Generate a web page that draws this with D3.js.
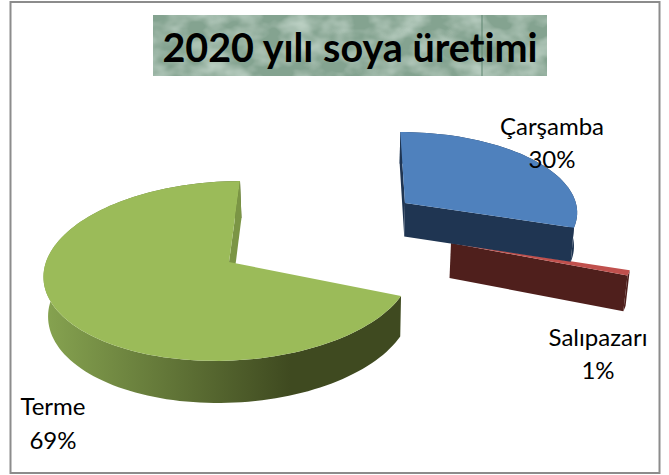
<!DOCTYPE html>
<html>
<head>
<meta charset="utf-8">
<script src="https://cdn.jsdelivr.net/npm/d3@7"></script>
<style>
  html, body { margin: 0; padding: 0; background: #fff; }
  text { font-family: Lato, "Open Sans", sans-serif; fill: #000; font-variant-ligatures: none; }
</style>
</head>
<body>
<div id="chart"></div>
<script>
// data
const categories = ['Çarşamba', 'Salıpazarı', 'Terme'];
const shares = [30, 1, 69];
const chartTitle = '2020 yılı soya üretimi';

// canvas
const width = 669, height = 475;
const svg = d3.select('#chart').append('svg')
  .attr('width', width).attr('height', height)
  .style('display', 'block');
const defs = svg.append('defs');

// frame
svg.append('rect').attr('x', 10.5).attr('y', 2).attr('width', 649).attr('height', 471)
  .attr('fill', '#fff').attr('stroke', '#8c8c8c').attr('stroke-width', 2);

// title panel with marble texture
const marble = defs.append('filter').attr('id', 'marble')
  .attr('x', 0).attr('y', 0).attr('width', 1).attr('height', 1);
marble.append('feTurbulence').attr('type', 'fractalNoise')
  .attr('baseFrequency', '0.035 0.05').attr('numOctaves', 3).attr('seed', 7);
marble.append('feColorMatrix').attr('type', 'matrix')
  .attr('values', '0 0 0 0 0.66  0 0 0 0 0.79  0 0 0 0 0.71  1.2 0 0 0 -0.42');
marble.append('feComposite').attr('in2', 'SourceGraphic').attr('operator', 'over');

svg.append('rect').attr('x', 153).attr('y', 15).attr('width', 394).attr('height', 61)
  .attr('fill', '#84a390').attr('filter', 'url(#marble)');
svg.append('line').attr('x1', 482).attr('x2', 482).attr('y1', 15).attr('y2', 76)
  .attr('stroke', '#5f8570').attr('stroke-width', 1);
svg.append('text').attr('x', 350).attr('y', 62)
  .attr('text-anchor', 'middle').attr('font-size', 39.5).attr('font-weight', 700)
  .text(chartTitle);

// 3d pie projection: plane units -> screen
const vanishX = 350, planeY = 262, tilt = 0.1, depthTilt = 0.015;
const sx = d3.scaleLinear().domain([0, 1]).range([0, 183]);
const sy = d3.scaleLinear().domain([0, 1]).range([0, 89]);
const planeCenterX = -121;

function project(X, Y, drop) {
  const w = 1 + tilt * Y + (drop ? depthTilt : 0);
  return [
    vanishX + (planeCenterX + sx(X)) / w,
    planeY + (-sy(Y) + drop) / w
  ];
}

// exploded slice offsets (plane units) and wall heights
const offsets = [[0.983, 0.71], [1.225, 0.218], [0, 0]];
const depths = [35.5, 36, 40];
const tops = ['#4f81bd', '#c0504d', '#9bbb59'];
const sides = ['#1f3552', '#4f1f1c', 'url(#greenWall)'];
const cuts = ['#1f3552', '#4f1f1c', '#7b9545'];

const wallGrad = defs.append('linearGradient').attr('id', 'greenWall')
  .attr('gradientUnits', 'userSpaceOnUse')
  .attr('x1', 45).attr('x2', 290).attr('y1', 0).attr('y2', 0);
wallGrad.append('stop').attr('offset', 0).attr('stop-color', '#86a350');
wallGrad.append('stop').attr('offset', 1).attr('stop-color', '#3f4a20');

const pie = d3.pie().sort(null);
const arcs = pie(shares);
const line = d3.line();
const toRad = Math.PI / 180;

function rim(d, i, drop) {
  const [ox, oy] = offsets[i];
  const n = Math.max(4, Math.ceil((d.endAngle - d.startAngle) / (2 * toRad)));
  return d3.range(n + 1).map(k => {
    const a = d.startAngle + (d.endAngle - d.startAngle) * k / n;
    return project(ox + Math.sin(a), oy + Math.cos(a), drop);
  });
}
function radial(i, angle) {
  const [ox, oy] = offsets[i];
  const ax = ox + Math.sin(angle), ay = oy + Math.cos(angle);
  return [project(ox, oy, 0), project(ax, ay, 0), project(ax, ay, depths[i]), project(ox, oy, depths[i])];
}

// draw back to front: Terme, Salıpazarı, Çarşamba
[2, 1, 0].forEach(i => {
  const d = arcs[i];
  const g = svg.append('g').attr('class', 'slice');
  // outer wall
  g.append('path')
    .attr('d', line(rim(d, i, 0).concat(rim(d, i, depths[i]).reverse())) + 'Z')
    .attr('fill', sides[i]);
  // cut faces: every slice shows its end, Çarşamba also its start
  if (i === 0) g.append('path').attr('d', line(radial(i, d.startAngle)) + 'Z').attr('fill', cuts[i]);
  g.append('path').attr('d', line(radial(i, d.endAngle)) + 'Z').attr('fill', cuts[i]);
  // top face
  g.append('path')
    .attr('d', line([project(offsets[i][0], offsets[i][1], 0)].concat(rim(d, i, 0))) + 'Z')
    .attr('fill', tops[i]);
});

// labels
const labelPos = [[552, 135, 168], [598, 346, 379], [53, 415, 449]];
categories.forEach((c, i) => {
  const t = svg.append('text').attr('font-size', 24).attr('text-anchor', 'middle');
  t.append('tspan').attr('x', labelPos[i][0]).attr('y', labelPos[i][1]).text(c);
  t.append('tspan').attr('x', labelPos[i][0]).attr('y', labelPos[i][2]).text(shares[i] + '%');
});
</script>
</body>
</html>
